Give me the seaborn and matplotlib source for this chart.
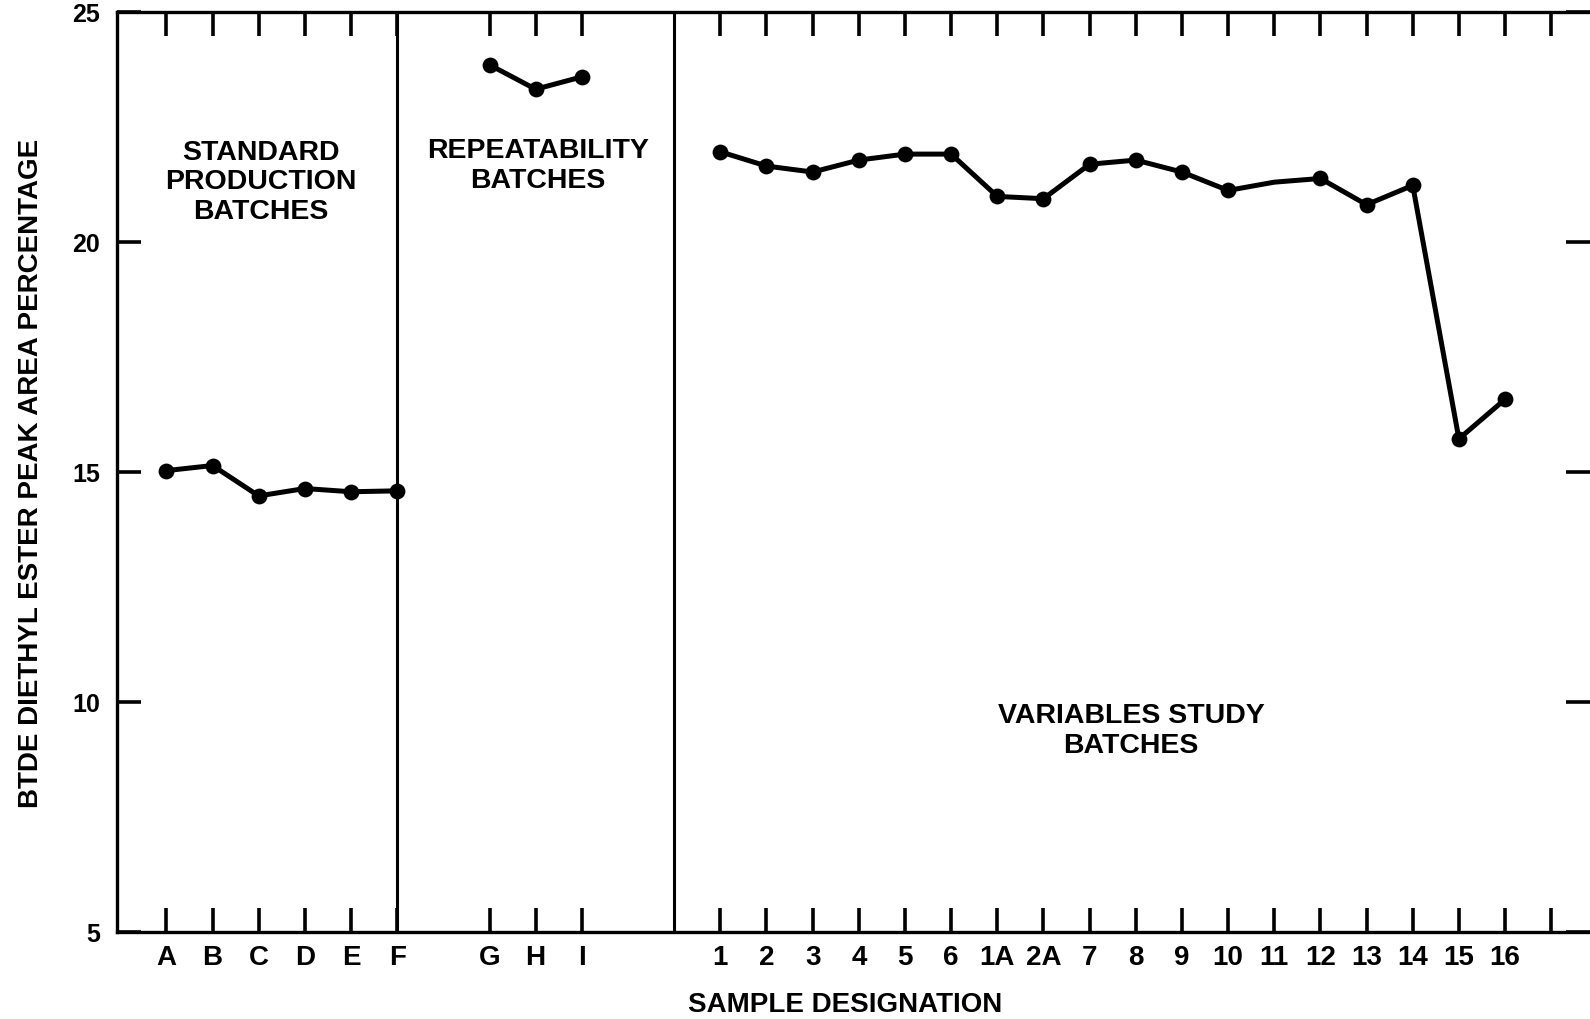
import pandas as pd
import seaborn as sns
import matplotlib.pyplot as plt

# tick slots along the x axis ('' = empty slot)
slots = ['A', 'B', 'C', 'D', 'E', 'F', '', 'G', 'H', 'I', '', '',
         '1', '2', '3', '4', '5', '6', '1A', '2A', '7', '8', '9', '10',
         '11', '12', '13', '14', '15', '16', '']

std_labels = ['A', 'B', 'C', 'D', 'E', 'F']
std_values = [15.03, 15.14, 14.48, 14.64, 14.57, 14.59]

rep_labels = ['G', 'H', 'I']
rep_values = [23.85, 23.32, 23.59]

var_labels = ['1', '2', '3', '4', '5', '6', '1A', '2A', '7', '8', '9', '10',
              '11', '12', '13', '14', '15', '16']
var_values = [21.96, 21.65, 21.52, 21.78, 21.91, 21.91, 20.99, 20.94, 21.69,
              21.78, 21.52, 21.12, 21.30, 21.38, 20.81, 21.23, 15.72, 16.58]
no_marker = ['11']

y_ticks = [5, 10, 15, 20, 25]

rows = []
for grp, labs, vals in [('std', std_labels, std_values),
                        ('rep', rep_labels, rep_values),
                        ('var', var_labels, var_values)]:
    for lab, v in zip(labs, vals):
        rows.append({'label': lab, 'pos': slots.index(lab), 'value': v,
                     'group': grp, 'marked': lab not in no_marker})
df = pd.DataFrame(rows)

sns.set_theme(style='ticks')
plt.rcParams['font.family'] = ['Liberation Sans', 'DejaVu Sans']
plt.rcParams['font.weight'] = 'bold'
plt.rcParams['text.color'] = 'black'
plt.rcParams['xtick.color'] = 'black'
plt.rcParams['ytick.color'] = 'black'
plt.rcParams['axes.labelcolor'] = 'black'

fig = plt.figure(figsize=(15.9, 10.2), dpi=100)
ax = fig.add_axes([0.0733, 0.0853, 0.9267, 0.902])

for grp in ['std', 'rep', 'var']:
    sub = df[df['group'] == grp]
    sns.lineplot(data=sub, x='pos', y='value', color='black', linewidth=3.6,
                 ax=ax, legend=False, estimator=None, sort=False)
sns.scatterplot(data=df[df['marked']], x='pos', y='value', color='black',
                s=130, edgecolor='black', linewidth=0, ax=ax, legend=False,
                zorder=5)

# group separators
for sep in [slots.index('F'), 11]:
    ax.axvline(sep, color='black', linewidth=2.2)

ax.set_xlim(-1.08, 30.84)
ax.set_ylim(5, 25)

tick_pos = [i for i, s in enumerate(slots) if s] + [len(slots) - 1]
tick_lab = [slots[i] for i in tick_pos]
ax.set_xticks(tick_pos)
ax.set_xticklabels(tick_lab, fontsize=20, fontweight='bold')
ax.set_yticks(y_ticks)
ax.set_yticklabels([str(v) for v in y_ticks], fontsize=18, fontweight='bold')

ax.tick_params(axis='x', direction='in', top=True, bottom=True, length=17,
               width=2.6, pad=9)
ax.tick_params(axis='y', direction='in', left=True, right=True, length=17,
               width=2.6, pad=12)

for side in ['left', 'top', 'bottom']:
    ax.spines[side].set_linewidth(2.4)
    ax.spines[side].set_color('black')
ax.spines['right'].set_visible(False)

ax.set_xlabel('')
ax.set_ylabel('BTDE DIETHYL ESTER PEAK AREA PERCENTAGE', fontsize=20,
              fontweight='bold')
ax.yaxis.set_label_coords(-0.049, 0.5)
fig.text(845 / 1590, 1 - 1005 / 1020, 'SAMPLE DESIGNATION', fontsize=20,
         fontweight='bold', ha='center', va='center')

txt = dict(fontsize=20.5, fontweight='bold', ha='center', va='center',
           linespacing=1.17)
ax.text(2.04, 21.32, 'STANDARD\nPRODUCTION\nBATCHES', **txt)
ax.text(8.05, 21.67, 'REPEATABILITY\nBATCHES', **txt)
ax.text(20.9, 9.39, 'VARIABLES STUDY\nBATCHES', **txt)

plt.savefig('out.png', dpi=100)
plt.close()
